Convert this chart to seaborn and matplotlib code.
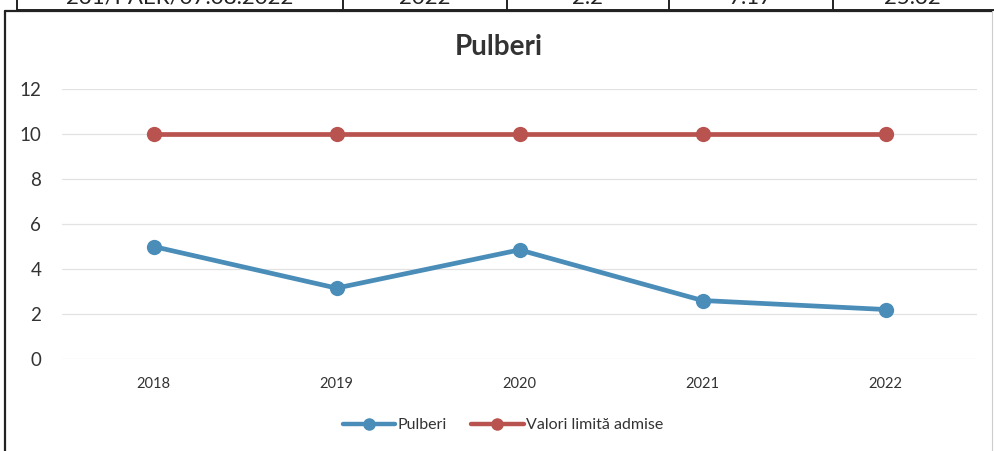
import matplotlib
matplotlib.use("Agg")
import matplotlib.pyplot as plt
import seaborn as sns
import pandas as pd
from matplotlib.lines import Line2D

# date
years = ["2018", "2019", "2020", "2021", "2022"]
pulberi = [5.0, 3.15, 4.85, 2.6, 2.2]
valori_limita = [10, 10, 10, 10, 10]
y_ticks = [0, 2, 4, 6, 8, 10, 12]

# randul de tabel taiat din partea de sus a paginii
table_cells = ["231/PAER/07.08.2022", "2022", "2.2", "7.17", "25.32"]
table_edges = [17, 343, 507, 669, 833, 992]

blue = "#4a8db8"
red = "#b9534f"

sns.set_theme(style="white")
plt.rcParams["font.family"] = ["Lato", "DejaVu Sans"]

df = pd.DataFrame({
    "x": list(range(len(years))) * 2,
    "val": pulberi + valori_limita,
    "serie": ["Pulberi"] * len(years) + ["Valori limită admise"] * len(years),
})

W, H = 995, 451
fig = plt.figure(figsize=(W / 100, H / 100), dpi=100)
ax = fig.add_axes([62 / W, 1 - 359 / H, (977 - 62) / W, (359 - 89) / H])

sns.lineplot(data=df, x="x", y="val", hue="serie", palette=[blue, red],
             marker="o", markersize=11, markeredgewidth=0, linewidth=3.4,
             ax=ax, legend=False)

ax.set_xlim(-0.5, len(years) - 0.5)
ax.set_ylim(0, 12)
ax.set_xticks(range(len(years)))
ax.set_xticklabels(years, fontsize=10.5, color="#333333")
ax.set_yticks(y_ticks)
ax.set_yticklabels([str(t) for t in y_ticks], fontsize=13.5, color="#333333")
ax.tick_params(axis="both", length=0)
ax.tick_params(axis="x", pad=13)
ax.tick_params(axis="y", pad=15)
ax.set_xlabel("")
ax.set_ylabel("")
ax.yaxis.grid(True, color="#e2e2e2", linewidth=0.9)
for s in ax.spines.values():
    s.set_visible(False)

fig.text(499 / W, 1 - 47 / H, "Pulberi", ha="center", va="center",
         fontsize=20, fontweight="bold", color="#333333")

handles = [
    Line2D([], [], color=blue, lw=3.2, marker="o", markersize=8),
    Line2D([], [], color=red, lw=3.2, marker="o", markersize=8),
]
fig.legend(handles, ["Pulberi", "Valori limită admise"], loc="center",
           bbox_to_anchor=(503 / W, 1 - 425 / H), ncol=2, frameon=False,
           fontsize=11.5, handlelength=3.3, handletextpad=0.15,
           columnspacing=1.5, labelcolor="#333333")

# chenarul graficului
fig.add_artist(Line2D([5 / W, 5 / W], [0, 1 - 11 / H], color="#222222", lw=1.6))
fig.add_artist(Line2D([5 / W, 992 / W], [1 - 11 / H, 1 - 11 / H], color="#222222", lw=1.6))
fig.add_artist(Line2D([992 / W, 992 / W], [0, 1 - 11 / H], color="#cccccc", lw=0.8))

# tabelul de sus
fig.add_artist(Line2D([table_edges[0] / W, 1], [1 - 10 / H, 1 - 10 / H], color="#222222", lw=1.4))
for e in table_edges[:-1]:
    fig.add_artist(Line2D([e / W, e / W], [1 - 10 / H, 1], color="#222222", lw=1.4))
for i, t in enumerate(table_cells):
    cx = (table_edges[i] + table_edges[i + 1]) / 2
    fig.text(cx / W, 1 - 4 / H, t, ha="center", va="baseline", fontsize=16, color="#222222")

fig.savefig("out.png", dpi=100)
